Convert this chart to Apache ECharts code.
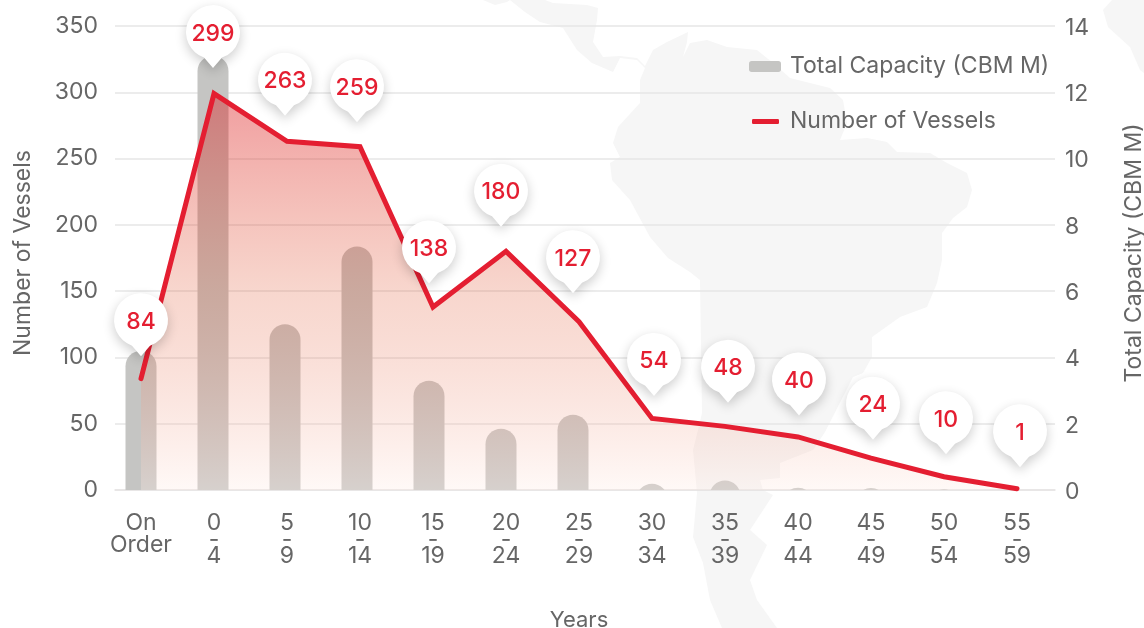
<!DOCTYPE html>
<html>
<head>
<meta charset="utf-8">
<title>Fleet age profile</title>
<script src="https://cdn.jsdelivr.net/npm/echarts@6/dist/echarts.min.js"></script>
<style>
  html, body { margin: 0; padding: 0; background: #fff; }
  #chart { width: 1144px; height: 628px; }
</style>
</head>
<body>
<div id="chart"></div>
<script>
const categories = ['On\nOrder', '0\n-\n4', '5\n-\n9', '10\n-\n14', '15\n-\n19', '20\n-\n24', '25\n-\n29',
  '30\n-\n34', '35\n-\n39', '40\n-\n44', '45\n-\n49', '50\n-\n54', '55\n-\n59'];
const vessels = [84, 299, 263, 259, 138, 180, 127, 54, 48, 40, 24, 10, 1];
const capacity = [4.2, 13.1, 5.0, 7.35, 3.3, 1.85, 2.27, 0.19, 0.29, 0.07, 0.06, 0.02, 0];

// the bars are not evenly spaced in the original, the first seven sit a bit tighter
const tightBars = 7;

// pin placement relative to its point, in px
const pinDx = [0, -1, -2, -3, -4, -5, -6, 2, 3, 1, 2, 2, 3];
const pinDy = [-54, -57, -57, -56, -55, -56, -60, -54, -55, -53, -50, -54, -53];

const RED = '#e41e31';
const GREY = '#c5c5c3';
const TEXT = '#666666';
const FONT = 'Inter';
const PIN = 'path://M18 52.5A27 27 0 1 1 36 52.5L27 63Z';
const BAR_W = 31;

// background map, just decoration
const mapShapes = [
  [[483, 0], [495, 5], [507, 2], [510, 0]],
  [[510, 0], [525, 12], [540, 22], [563, 28], [577, 50], [592, 63], [613, 72], [620, 58], [637, 60], [645, 68],
    [640, 80], [640, 103], [618, 127], [613, 143], [620, 157], [610, 163], [612, 180], [630, 200], [650, 237],
    [668, 258], [690, 272], [700, 280], [702, 413], [698, 430], [693, 450], [697, 493], [693, 537], [703, 563],
    [710, 600], [722, 628], [777, 628], [757, 600], [750, 580], [767, 545], [750, 530], [773, 495], [763, 490],
    [760, 480], [780, 478], [780, 463], [813, 450], [825, 432], [853, 377], [863, 373], [872, 357], [872, 337],
    [900, 317], [927, 307], [937, 283], [942, 260], [942, 233], [953, 218], [967, 207], [972, 190], [967, 173],
    [947, 163], [930, 153], [897, 152], [887, 142], [867, 138], [840, 140], [847, 123], [843, 100], [830, 88],
    [790, 78], [773, 63], [757, 50], [727, 47], [707, 40], [690, 43], [683, 57], [687, 42], [688, 32], [667, 42],
    [653, 50], [645, 66], [637, 58], [620, 56], [603, 57], [593, 42], [597, 20], [598, 8], [587, 5], [553, 3], [545, 0]],
  [[1112, 0], [1103, 10], [1108, 27], [1130, 47], [1140, 70], [1144, 73], [1144, 0]]
];

const chart = echarts.init(document.getElementById('chart'));

const hiddenY = (index, max, interval) => ({
  type: 'value', gridIndex: index, min: 0, max, interval, show: false
});

// short bars keep their full round top and get cut off at the baseline
const renderStub = (params, api) => {
  const top = api.coord([api.value(0), api.value(1)]);
  const base = api.coord([api.value(0), 0]);
  return {
    type: 'rect',
    shape: {
      x: top[0] - BAR_W / 2,
      y: top[1],
      width: BAR_W,
      height: base[1] - top[1] + BAR_W,
      r: [BAR_W / 2, BAR_W / 2, 0, 0]
    },
    style: { fill: GREY }
  };
};

const ageLabel = v => {
  if (v.startsWith('On')) {
    return '{on|On}\n{order|Order}';
  }
  return v.split('\n').map(s => '{age|' + s + '}').join('\n');
};

const option = {
  animation: false,
  backgroundColor: '#fff',
  textStyle: { fontFamily: FONT },
  graphic: mapShapes.map(points => ({
    type: 'polygon',
    z: -1,
    shape: { points },
    style: { fill: '#f6f6f6' },
    silent: true
  })),
  legend: [
    {
      left: 749, top: 55, padding: 0, itemWidth: 32, itemHeight: 11,
      data: [{ name: 'Total Capacity (CBM M)', icon: 'roundRect' }],
      textStyle: { color: TEXT, fontSize: 23, fontFamily: FONT, padding: [0, 0, 0, 4] }
    },
    {
      left: 752, top: 110, padding: 0, itemWidth: 27, itemHeight: 5,
      data: [{ name: 'Number of Vessels', icon: 'roundRect' }],
      textStyle: { color: TEXT, fontSize: 23, fontFamily: FONT, padding: [0, 0, 0, 6] }
    }
  ],
  grid: [
    { left: 115, width: 940, top: 26, height: 464, outerBoundsMode: 'none' },     // gridlines and visible y axes
    { left: 104.5, width: 949, top: 26, height: 464, outerBoundsMode: 'none' },   // line, pins, x labels
    { left: 105, width: 936, top: 26, height: 464, outerBoundsMode: 'none' }      // tight bars
  ],
  xAxis: [
    {
      type: 'category', gridIndex: 0, data: categories,
      axisLine: { lineStyle: { color: '#e6e4e4', width: 1.5 } },
      axisTick: { show: false },
      axisLabel: { show: false }
    },
    {
      type: 'category', gridIndex: 1, data: categories,
      name: 'Years', nameLocation: 'middle', nameGap: 119,
      nameTextStyle: { color: TEXT, fontSize: 22, fontFamily: FONT },
      axisLine: { show: false },
      axisTick: { show: false },
      axisLabel: {
        margin: 25,
        interval: 0,
        formatter: ageLabel,
        rich: {
          on: { color: TEXT, fontSize: 23, fontFamily: FONT, lineHeight: 16 },
          order: { color: TEXT, fontSize: 23, fontFamily: FONT, lineHeight: 28 },
          age: { color: TEXT, fontSize: 23, fontFamily: FONT, lineHeight: 16.5 }
        }
      }
    },
    { type: 'category', gridIndex: 2, data: categories, show: false }
  ],
  yAxis: [
    {
      type: 'value', gridIndex: 0, min: 0, max: 350, interval: 50, position: 'left',
      name: 'Number of Vessels', nameLocation: 'middle', nameGap: 80,
      nameTextStyle: { color: TEXT, fontSize: 23, fontFamily: FONT, padding: [0, 0, 0, 10] },
      axisLine: { show: false },
      axisTick: { show: false },
      axisLabel: { color: TEXT, fontSize: 23, fontFamily: FONT, margin: 17 },
      splitLine: { lineStyle: { color: '#e6e6e6', width: 1.5 } }
    },
    {
      type: 'value', gridIndex: 0, min: 0, max: 14, interval: 2, position: 'right',
      name: 'Total Capacity (CBM M)', nameLocation: 'middle', nameGap: 68,
      nameTextStyle: { color: TEXT, fontSize: 23, fontFamily: FONT, padding: [0, 0, 0, 10] },
      axisLine: { show: false },
      axisTick: { show: false },
      // these sit a little under their gridlines in the original
      axisLabel: { color: TEXT, fontSize: 23, fontFamily: FONT, margin: 10, verticalAlign: 'top', lineHeight: 4 },
      splitLine: { show: false }
    },
    hiddenY(1, 350, 50),
    hiddenY(1, 14, 2),
    hiddenY(2, 14, 2)
  ],
  series: [
    {
      name: 'Total Capacity (CBM M)', type: 'bar', xAxisIndex: 2, yAxisIndex: 4, z: 2,
      barWidth: BAR_W,
      itemStyle: { color: GREY, borderRadius: [BAR_W / 2, BAR_W / 2, 0, 0] },
      data: capacity.slice(0, tightBars)
    },
    {
      name: 'Total Capacity (CBM M)', type: 'custom', xAxisIndex: 1, yAxisIndex: 3, z: 2,
      clip: true,
      itemStyle: { color: GREY },
      renderItem: renderStub,
      encode: { x: 0, y: 1 },
      data: capacity.map((v, i) => [i, v]).slice(tightBars)
    },
    {
      name: 'Number of Vessels', type: 'line', xAxisIndex: 1, yAxisIndex: 2, z: 3,
      showSymbol: false,
      itemStyle: { color: RED },
      lineStyle: { color: RED, width: 5, cap: 'round', join: 'miter' },
      areaStyle: {
        opacity: 1,
        color: new echarts.graphic.LinearGradient(0, 0, 0, 1, [
          { offset: 0, color: 'rgba(220, 20, 25, 0.42)' },
          { offset: 0.5, color: 'rgba(222, 70, 30, 0.22)' },
          { offset: 1, color: 'rgba(255, 235, 228, 0.3)' }
        ])
      },
      data: vessels
    },
    {
      name: 'pins', type: 'scatter', xAxisIndex: 1, yAxisIndex: 2, z: 5,
      symbol: PIN,
      symbolSize: [54, 63],
      itemStyle: { color: '#fff', opacity: 1, shadowBlur: 12, shadowColor: 'rgba(0,0,0,0.2)', shadowOffsetY: 4 },
      label: {
        show: true, position: 'inside', offset: [0, -3],
        color: RED, fontSize: 23, fontWeight: 500, fontFamily: FONT,
        formatter: p => String(p.value)
      },
      data: vessels.map((v, i) => ({ value: v, symbolOffset: [pinDx[i], pinDy[i]] }))
    }
  ]
};

chart.setOption(option);
</script>
</body>
</html>
